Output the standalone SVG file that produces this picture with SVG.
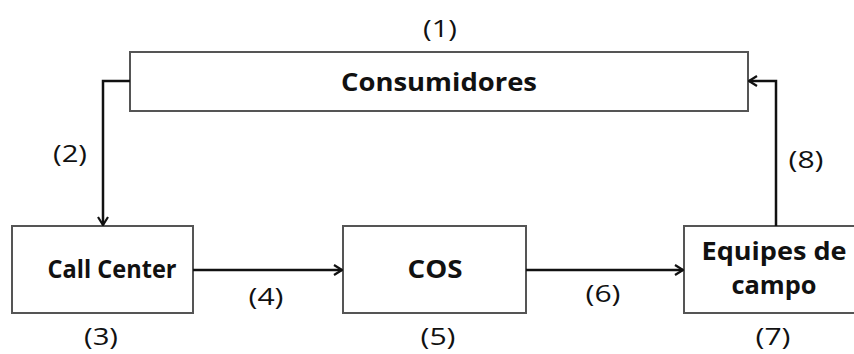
<svg xmlns="http://www.w3.org/2000/svg" width="854" height="354" viewBox="0 0 854 354">
  <style>
    .box { fill: #ffffff; stroke: #555555; stroke-width: 2; }
    .name { font-family: "Open Sans", "Liberation Sans", sans-serif; font-weight: bold; font-size: 25px; fill: #111111; text-anchor: middle; }
    .num { font-family: "Open Sans", "Liberation Sans", sans-serif; font-size: 24px; fill: #111111; text-anchor: middle; }
    .link { fill: none; stroke: #111111; stroke-width: 2.5; }
  </style>
  <defs>
    <marker id="chevron" viewBox="0 0 12 12" refX="11" refY="6" markerWidth="12" markerHeight="12" markerUnits="userSpaceOnUse" orient="auto">
      <path d="M3 1 L11 6 L3 11" fill="none" stroke="#111111" stroke-width="2.2"/>
    </marker>
  </defs>

  <rect width="854" height="354" fill="#ffffff"/>

  <g id="consumidores">
    <rect class="box" x="130" y="52" width="618" height="59"/>
    <text class="name" x="439" y="91" textLength="196" lengthAdjust="spacingAndGlyphs">Consumidores</text>
  </g>

  <g id="call-center">
    <rect class="box" x="12" y="226" width="181" height="87"/>
    <text class="name" x="112" y="278" textLength="129" lengthAdjust="spacingAndGlyphs">Call Center</text>
  </g>

  <g id="cos">
    <rect class="box" x="343" y="226" width="183" height="87"/>
    <text class="name" x="435" y="278" textLength="55" lengthAdjust="spacingAndGlyphs">COS</text>
  </g>

  <g id="equipes-de-campo">
    <rect class="box" x="684" y="226" width="180" height="87"/>
    <text class="name" x="774" y="260" textLength="145" lengthAdjust="spacingAndGlyphs">Equipes de</text>
    <text class="name" x="774" y="294" textLength="85" lengthAdjust="spacingAndGlyphs">campo</text>
  </g>

  <g id="connectors">
    <path class="link" d="M130 81 H103 V225" marker-end="url(#chevron)"/>
    <path class="link" d="M193 270 H342" marker-end="url(#chevron)"/>
    <path class="link" d="M526 270 H683" marker-end="url(#chevron)"/>
    <path class="link" d="M776 226 V81 H749" marker-end="url(#chevron)"/>
  </g>

  <g id="step-labels">
    <text class="num" x="440" y="37" textLength="34" lengthAdjust="spacingAndGlyphs">(1)</text>
    <text class="num" x="70" y="162" textLength="34" lengthAdjust="spacingAndGlyphs">(2)</text>
    <text class="num" x="101" y="345" textLength="34" lengthAdjust="spacingAndGlyphs">(3)</text>
    <text class="num" x="266" y="305" textLength="35" lengthAdjust="spacingAndGlyphs">(4)</text>
    <text class="num" x="438" y="345" textLength="35" lengthAdjust="spacingAndGlyphs">(5)</text>
    <text class="num" x="603" y="302" textLength="35" lengthAdjust="spacingAndGlyphs">(6)</text>
    <text class="num" x="773" y="345" textLength="35" lengthAdjust="spacingAndGlyphs">(7)</text>
    <text class="num" x="806" y="168" textLength="35" lengthAdjust="spacingAndGlyphs">(8)</text>
  </g>
</svg>
